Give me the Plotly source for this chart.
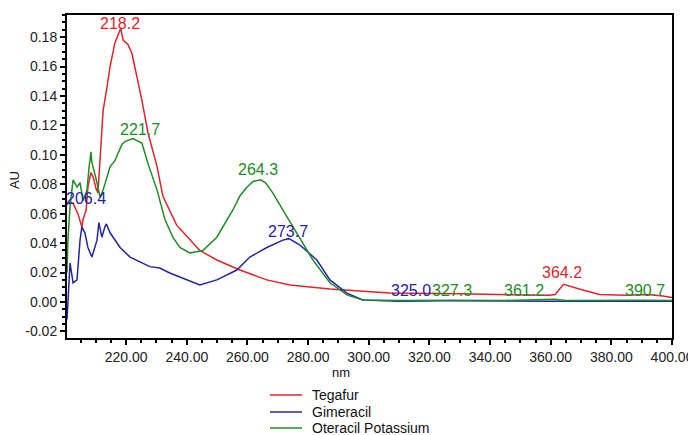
import plotly.graph_objects as go

# ---- data ----
tegafur_nm = [200.5, 201.5, 202.5, 204.1, 205.4, 205.8, 206.8, 207.4, 208.4, 209.1, 210.1, 210.7,
              211.5, 212.4, 213.7, 214.7, 216.3, 218.2, 219.0, 220.6, 221.9, 223.6, 225.2, 227.2,
              230.2, 232.1, 234.4, 236.7, 238.5, 244.3, 249.9, 257.5, 266.4, 274.0, 287.2, 306.9,
              330.0, 340.0, 350.0, 359.6, 361.5, 364.2, 370.0, 376.1, 385.0, 392.0, 397.0, 400.0]
tegafur_au = [0.066, 0.068, 0.067, 0.060, 0.051, 0.056, 0.0625, 0.078, 0.088, 0.085, 0.077, 0.074,
              0.100, 0.130, 0.146, 0.160, 0.176, 0.186, 0.178, 0.175, 0.169, 0.153, 0.137, 0.115,
              0.092, 0.072, 0.0625, 0.052, 0.048, 0.035, 0.0285, 0.0217, 0.015, 0.0115, 0.0088, 0.006,
              0.0055, 0.005, 0.0048, 0.0045, 0.005, 0.012, 0.0085, 0.005, 0.0045, 0.005, 0.004, 0.003]

gimeracil_nm = [200.5, 201.5, 202.5, 203.8, 204.8, 205.4, 206.4, 207.4, 208.7, 210.4, 211.0, 212.0,
                213.0, 213.5, 214.7, 216.0, 218.0, 221.3, 227.8, 231.1, 234.4, 237.7, 244.3, 249.9,
                256.5, 260.8, 266.4, 271.7, 273.7, 277.3, 282.9, 287.2, 292.8, 298.0, 310.0, 325.0,
                340.0, 360.0, 380.0, 400.0]
gimeracil_au = [-0.012, 0.0265, 0.013, 0.015, 0.042, 0.051, 0.047, 0.037, 0.0305, 0.042, 0.054, 0.044,
                0.051, 0.053, 0.047, 0.043, 0.037, 0.0305, 0.024, 0.023, 0.0197, 0.017, 0.0115, 0.015,
                0.0217, 0.0305, 0.037, 0.042, 0.043, 0.0387, 0.0285, 0.015, 0.006, 0.0014, 0.0005, 0.0008,
                0.0005, 0.0005, 0.0004, 0.0004]

oteracil_nm = [200.5, 200.8, 201.5, 202.5, 203.8, 204.8, 205.8, 207.1, 207.7, 208.4, 208.7, 209.1,
               210.4, 211.4, 212.4, 213.7, 214.7, 216.3, 217.3, 218.6, 219.6, 221.7, 222.2, 225.2,
               227.2, 230.2, 232.8, 235.4, 236.7, 237.7, 241.0, 245.3, 249.9, 255.2, 257.5, 259.8,
               262.0, 264.3, 266.0, 268.4, 273.0, 276.3, 281.6, 287.2, 292.8, 298.0, 310.0, 327.3,
               345.0, 361.2, 365.0, 390.7, 400.0]
oteracil_au = [0.020, 0.042, 0.065, 0.083, 0.078, 0.081, 0.069, 0.076, 0.090, 0.102, 0.095, 0.092,
               0.081, 0.071, 0.076, 0.085, 0.092, 0.096, 0.101, 0.107, 0.109, 0.111, 0.111, 0.108,
               0.094, 0.076, 0.056, 0.044, 0.040, 0.037, 0.0333, 0.035, 0.044, 0.0625, 0.072, 0.078,
               0.082, 0.083, 0.081, 0.074, 0.058, 0.047, 0.0285, 0.013, 0.0048, 0.0014, 0.0010, 0.0012,
               0.0010, 0.0018, 0.0010, 0.0012, 0.0010]

series_names = ["Tegafur", "Gimeracil", "Oteracil Potassium"]

# peak labels
peak_text = ["218.2", "221.7", "264.3", "273.7", "206.4", "325.0", "327.3", "361.2", "364.2", "390.7"]
peak_x = [218.0, 224.6, 263.4, 273.3, 206.8, 313.8, 327.4, 351.1, 363.6, 391.0]
peak_y = [0.189, 0.1175, 0.0897, 0.048, 0.070, 0.0075, 0.0075, 0.0075, 0.0197, 0.0075]
peak_series = [0, 2, 2, 1, 1, 1, 2, 2, 0, 2]

x_ticks = [220, 240, 260, 280, 300, 320, 340, 360, 380, 400]
y_ticks = [-0.02, 0.00, 0.02, 0.04, 0.06, 0.08, 0.10, 0.12, 0.14, 0.16, 0.18]

RED = "#e3232b"
BLUE = "#2424a8"
GREEN = "#1e8c24"
series_colors = [RED, BLUE, GREEN]
FONT = "Liberation Sans, Arial, sans-serif"

fig = go.Figure()
for name, xs, ys, col in zip(series_names,
                             [tegafur_nm, gimeracil_nm, oteracil_nm],
                             [tegafur_au, gimeracil_au, oteracil_au],
                             series_colors):
    fig.add_trace(go.Scatter(x=xs, y=ys, mode="lines", name=name, showlegend=False,
                             line=dict(color=col, width=1.5)))

for t, x, y, s in zip(peak_text, peak_x, peak_y, peak_series):
    fig.add_annotation(x=x, y=y, text=t, showarrow=False, xanchor="center", yanchor="middle",
                       font=dict(family=FONT, size=16, color=series_colors[s]))

# legend below the plot (paper coordinates)
leg_y = [-0.1765, -0.2291, -0.2786]
for name, col, ly in zip(series_names, series_colors, leg_y):
    fig.add_shape(type="line", xref="paper", yref="paper", x0=0.3355, x1=0.3884, y0=ly, y1=ly,
                  line=dict(color=col, width=1.5))
    fig.add_annotation(xref="paper", yref="paper", x=0.4017, y=ly, text=name, showarrow=False,
                       xanchor="left", yanchor="middle",
                       font=dict(family=FONT, size=14, color="#111"))

# axis titles
fig.add_annotation(xref="paper", yref="paper", x=0.4529, y=-0.1053, text="nm", showarrow=False,
                   xanchor="center", yanchor="middle", font=dict(family=FONT, size=13, color="#111"))
fig.add_annotation(xref="paper", yref="paper", x=-0.0876, y=0.489, text="AU", showarrow=False,
                   textangle=-90, xanchor="center", yanchor="middle",
                   font=dict(family=FONT, size=13, color="#111"))

axis_common = dict(showgrid=False, zeroline=False, showline=True, linecolor="black", linewidth=2,
                   mirror=True, ticks="outside", ticklen=5, tickcolor="black", tickwidth=1.5,
                   automargin=False, tickfont=dict(family=FONT, size=14, color="#222"))

# page body has an 8px margin, so the figure is sized to the visible area
fig.update_layout(
    width=688, height=427,
    margin=dict(l=59, r=24, t=7, b=97),
    paper_bgcolor="white", plot_bgcolor="white",
    font=dict(family=FONT, size=13, color="#222"),
    showlegend=False,
    xaxis=dict(range=[200.5, 400.0], tickvals=x_ticks, ticktext=[f"{v:.2f}" for v in x_ticks],
               minor=dict(dtick=5, tick0=200, ticks="outside", ticklen=3, tickcolor="black"),
               **axis_common),
    yaxis=dict(range=[-0.0245, 0.195], tickvals=y_ticks, ticktext=[f"{v:.2f}" for v in y_ticks],
               minor=dict(dtick=0.005, tick0=0, ticks="outside", ticklen=3, tickcolor="black"),
               **axis_common),
)

fig.write_html("out.html")
